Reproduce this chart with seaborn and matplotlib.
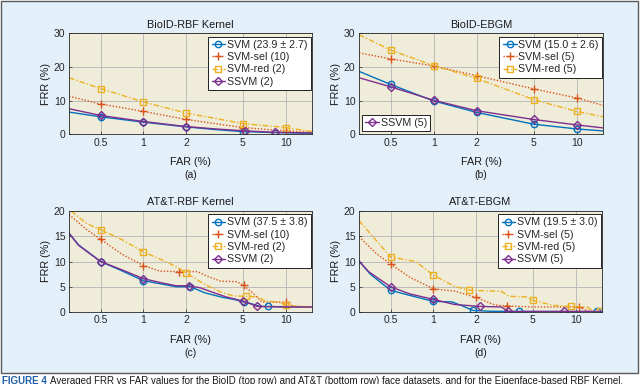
import matplotlib
matplotlib.use("Agg")
import matplotlib.pyplot as plt
import matplotlib.patches as mpatches
import seaborn as sns

# ---------------- data ----------------
xticks = [0.5, 1, 2, 5, 10]
xtick_labels = ["0.5", "1", "2", "5", "10"]

titles = ["BioID-RBF Kernel", "BioID-EBGM", "AT&T-RBF Kernel", "AT&T-EBGM"]
panel_tags = ["(a)", "(b)", "(c)", "(d)"]

labels_a = ["SVM (23.9 ± 2.7)", "SVM-sel (10)", "SVM-red (2)", "SSVM (2)"]
labels_b = ["SVM (15.0 ± 2.6)", "SVM-sel (5)", "SVM-red (5)", "SSVM (5)"]
labels_c = ["SVM (37.5 ± 3.8)", "SVM-sel (10)", "SVM-red (2)", "SSVM (2)"]
labels_d = ["SVM (19.5 ± 3.0)", "SVM-sel (5)", "SVM-red (5)", "SSVM (5)"]

# (a) BioID-RBF
a_svm_x = [0.3, 0.5, 1, 2, 3.2, 5, 8.4, 15.3]
a_svm_y = [6.6, 5.2, 3.6, 2.2, 1.4, 0.8, 0.5, 0.3]
a_svm_m = [1, 2, 3, 5, 6]
a_sel_x = [0.3, 0.5, 1, 2, 5, 10, 15.3]
a_sel_y = [11.3, 9.0, 6.8, 4.4, 2.0, 1.0, 0.6]
a_sel_m = [1, 2, 3, 4, 5]
a_red_x = [0.3, 0.5, 1, 2, 5, 10, 15.3]
a_red_y = [16.8, 13.6, 9.6, 6.3, 3.2, 2.0, 0.8]
a_red_m = [1, 2, 3, 4, 5]
a_ssvm_x = [0.3, 0.5, 1, 2, 3.2, 5.2, 8.4, 15.3]
a_ssvm_y = [7.6, 5.6, 3.8, 2.3, 1.6, 1.0, 0.6, 0.4]
a_ssvm_m = [1, 2, 3, 5, 6]

# (b) BioID-EBGM
b_svm_x = [0.3, 0.5, 1, 2, 5, 10, 15.3]
b_svm_y = [18.7, 14.8, 9.9, 6.5, 3.0, 1.6, 1.0]
b_svm_m = [1, 2, 3, 4, 5]
b_sel_x = [0.3, 0.5, 1, 2, 5, 10, 15.3]
b_sel_y = [24.2, 22.4, 20.3, 17.4, 13.5, 10.8, 8.6]
b_sel_m = [1, 2, 3, 4, 5]
b_red_x = [0.3, 0.5, 1, 2, 5, 10, 15.3]
b_red_y = [29.6, 25.0, 20.4, 16.6, 10.3, 6.8, 5.2]
b_red_m = [1, 2, 3, 4, 5]
b_ssvm_x = [0.3, 0.5, 1, 2, 5, 10, 15.3]
b_ssvm_y = [16.8, 14.1, 10.1, 7.0, 4.4, 2.8, 1.9]
b_ssvm_m = [1, 2, 3, 4, 5]

# (c) AT&T-RBF
c_svm_x = [0.3, 0.35, 0.5, 0.7, 1.0, 1.43, 1.7, 2.14, 2.7, 3.6, 4.3, 5.08, 5.8, 6.6, 7.47, 10, 15.3]
c_svm_y = [15.6, 13.3, 10.0, 8.2, 6.2, 5.4, 5.0, 5.0, 3.8, 2.9, 2.5, 2.0, 1.6, 1.1, 1.1, 1.0, 1.0]
c_svm_m = [2, 4, 7, 11, 14]
c_sel_x = [0.3, 0.4, 0.5, 0.7, 1.0, 1.3, 1.77, 2.4, 2.8, 3.5, 4.5, 5.08, 6.0, 6.8, 10.1, 11.5, 15.3]
c_sel_y = [19.3, 16.3, 14.4, 11.5, 9.2, 8.1, 8.0, 8.0, 7.1, 6.1, 6.0, 5.3, 3.5, 2.0, 1.9, 1.0, 1.0]
c_sel_m = [2, 4, 6, 11, 14]
c_red_x = [0.31, 0.4, 0.5, 0.71, 1.0, 1.43, 1.77, 2.0, 2.73, 3.6, 4.3, 5.25, 6.3, 7.3, 9.0, 10.1, 15.3]
c_red_y = [20.0, 17.5, 16.3, 14.3, 11.9, 10.0, 8.7, 7.7, 5.4, 3.8, 3.2, 3.1, 3.0, 2.1, 2.0, 1.3, 1.0]
c_red_m = [2, 4, 7, 11, 15]
c_ssvm_x = [0.3, 0.35, 0.5, 0.7, 1.0, 1.33, 1.7, 2.08, 2.5, 3.0, 3.8, 4.5, 5.05, 5.7, 6.3, 10, 15.3]
c_ssvm_y = [15.6, 13.2, 10.0, 8.4, 6.6, 5.8, 5.2, 5.2, 4.8, 4.0, 3.0, 2.5, 2.1, 1.6, 1.1, 1.0, 1.0]
c_ssvm_m = [2, 4, 7, 12, 14]

# (d) AT&T-EBGM
d_svm_x = [0.3, 0.36, 0.5, 0.68, 1.0, 1.35, 1.6, 1.9, 2.5, 4.0, 8.0, 14.1, 15.3]
d_svm_y = [10.1, 7.5, 4.3, 3.3, 2.1, 2.0, 1.2, 0.3, 0.15, 0.1, 0.1, 0.1, 0.1]
d_svm_m = [2, 4, 7, 9, 11]
d_sel_x = [0.3, 0.4, 0.5, 0.68, 1.0, 1.43, 1.98, 2.7, 3.3, 5.0, 8.0, 10.5, 12.5, 15.3]
d_sel_y = [14.9, 11.5, 9.5, 6.9, 4.6, 4.1, 2.9, 1.4, 1.2, 1.0, 1.0, 1.0, 0.1, 0.0]
d_sel_m = [2, 4, 6, 8, 11]
d_red_x = [0.3, 0.5, 0.75, 1.0, 1.4, 1.78, 3.0, 3.4, 4.5, 5.0, 7.0, 9.3, 12.0, 13.5, 14.7, 15.3]
d_red_y = [18.1, 10.9, 10.0, 7.3, 5.1, 4.3, 4.1, 3.1, 3.0, 2.3, 1.3, 1.1, 1.0, 0.1, 0.1, 0.1]
d_red_m = [1, 3, 5, 9, 11, 14]
d_ssvm_x = [0.3, 0.35, 0.5, 0.68, 1.0, 1.4, 2.12, 3.0, 3.36, 5.0, 8.3, 15.3]
d_ssvm_y = [10.1, 8.0, 5.0, 3.6, 2.5, 1.5, 1.1, 1.0, 0.1, 0.1, 0.1, 0.1]
d_ssvm_m = [2, 4, 6, 8, 10]

panels = [
    dict(labels=labels_a, ylim=30, yticks=[0, 10, 20, 30],
         series=[(a_svm_x, a_svm_y, a_svm_m), (a_sel_x, a_sel_y, a_sel_m),
                 (a_red_x, a_red_y, a_red_m), (a_ssvm_x, a_ssvm_y, a_ssvm_m)]),
    dict(labels=labels_b, ylim=30, yticks=[0, 10, 20, 30],
         series=[(b_svm_x, b_svm_y, b_svm_m), (b_sel_x, b_sel_y, b_sel_m),
                 (b_red_x, b_red_y, b_red_m), (b_ssvm_x, b_ssvm_y, b_ssvm_m)]),
    dict(labels=labels_c, ylim=20, yticks=[0, 5, 10, 15, 20],
         series=[(c_svm_x, c_svm_y, c_svm_m), (c_sel_x, c_sel_y, c_sel_m),
                 (c_red_x, c_red_y, c_red_m), (c_ssvm_x, c_ssvm_y, c_ssvm_m)]),
    dict(labels=labels_d, ylim=20, yticks=[0, 5, 10, 15, 20],
         series=[(d_svm_x, d_svm_y, d_svm_m), (d_sel_x, d_sel_y, d_sel_m),
                 (d_red_x, d_red_y, d_red_m), (d_ssvm_x, d_ssvm_y, d_ssvm_m)]),
]

# ---------------- style ----------------
sns.set_style("ticks")
plt.rcParams["font.family"] = ["Liberation Sans", "DejaVu Sans"]

colors = ["#0072BD", "#D95319", "#EDB120", "#7E2F8E"]
styles = ["-", (0, (1, 1.3)), (0, (4, 1.5, 1, 1.5)), "-"]
markers = ["o", "+", "s", "D"]
msizes = [4.6, 6.0, 4.2, 3.8]

W, H = 640, 384
fig = plt.figure(figsize=(6.4, 3.84), dpi=100, facecolor="white")

# light blue framed panel
bg = mpatches.Rectangle((0.5 / W, 1 - 373 / H), 637.5 / W, 372.5 / H,
                        transform=fig.transFigure, facecolor="#e3eff9",
                        edgecolor="#5a5a5a", linewidth=1.0, zorder=-10)
fig.patches.append(bg)

# axes boxes in pixels: left, top, right, bottom
boxes = [(69, 33.3, 312, 134.3), (359, 33.3, 603, 134.3),
         (69, 211, 312, 312), (359, 211, 602, 312)]

for i, (p, (l, t, r, b)) in enumerate(zip(panels, boxes)):
    ax = fig.add_axes([l / W, 1 - b / H, (r - l) / W, (b - t) / H])
    ax.set_facecolor("#efecd9")
    lines = []
    for j, (xs, ys, mk) in enumerate(p["series"]):
        sns.lineplot(x=xs, y=ys, ax=ax, sort=False, estimator=None,
                     color=colors[j], linestyle=styles[j], linewidth=1.0,
                     marker=markers[j], markevery=mk, markersize=msizes[j],
                     markerfacecolor="none", markeredgecolor=colors[j],
                     markeredgewidth=1.0, label=p["labels"][j], legend=False)
        lines.append(ax.get_lines()[-1])
    ax.set_xscale("log")
    ax.set_xlim(0.3, 15.3)
    ax.set_ylim(0, p["ylim"])
    ax.set_xticks(xticks)
    ax.set_xticklabels(xtick_labels)
    ax.xaxis.set_minor_locator(matplotlib.ticker.NullLocator())
    ax.set_yticks(p["yticks"])
    ax.grid(True, which="major", color="#b4b4b4", linewidth=0.6)
    ax.set_axisbelow(True)
    for s in ax.spines.values():
        s.set_visible(True)
        s.set_color("#262626")
        s.set_linewidth(0.6)
    ax.tick_params(direction="in", length=2.5, width=0.5, labelsize=7.5,
                   colors="#262626", pad=2.5)
    ax.set_title(titles[i], fontsize=7.8, pad=4, color="#1a1a1a")
    ax.set_xlabel("FAR (%)", fontsize=7.8, labelpad=7, color="#1a1a1a")
    ax.set_ylabel("FRR (%)", fontsize=7.8, labelpad=2, color="#1a1a1a")
    ax.text(0.5, -40.5 / (b - t), panel_tags[i], transform=ax.transAxes,
            ha="center", va="center", fontsize=7.5, color="#1a1a1a")

    leg_kw = dict(fontsize=7.7, frameon=True, fancybox=False, edgecolor="#202020",
                  framealpha=1.0, handlelength=1.3, handletextpad=0.15,
                  labelspacing=0.22, borderpad=0.3, borderaxespad=0.3)
    if i == 1:
        leg1 = ax.legend(handles=lines[:3], labels=p["labels"][:3], loc="upper right",
                         bbox_to_anchor=(1.008, 1.0), **leg_kw)
        leg1.get_frame().set_linewidth(0.7)
        ax.add_artist(leg1)
        leg2 = ax.legend(handles=[lines[3]], labels=[p["labels"][3]], loc="lower left",
                         **leg_kw)
        leg2.get_frame().set_linewidth(0.7)
    else:
        leg = ax.legend(handles=lines, labels=p["labels"], loc="upper right",
                        bbox_to_anchor=(1.008, 1.0), **leg_kw)
        leg.get_frame().set_linewidth(0.7)

# caption (partly cut off at the bottom edge, as in the reference)
fig.text(2 / W, 1 - 375.5 / H, "FIGURE 4", fontsize=7.0, fontweight="bold",
         color="#1f5fa8", va="top", ha="left")
fig.text(50 / W, 1 - 375.5 / H,
         "Averaged FRR vs FAR values for the BioID (top row) and AT&T (bottom row) "
         "face datasets, and for the Eigenface-based RBF Kernel.",
         fontsize=7.0, color="#1a1a1a", va="top", ha="left")

fig.savefig("out.png", dpi=100, facecolor="white")
